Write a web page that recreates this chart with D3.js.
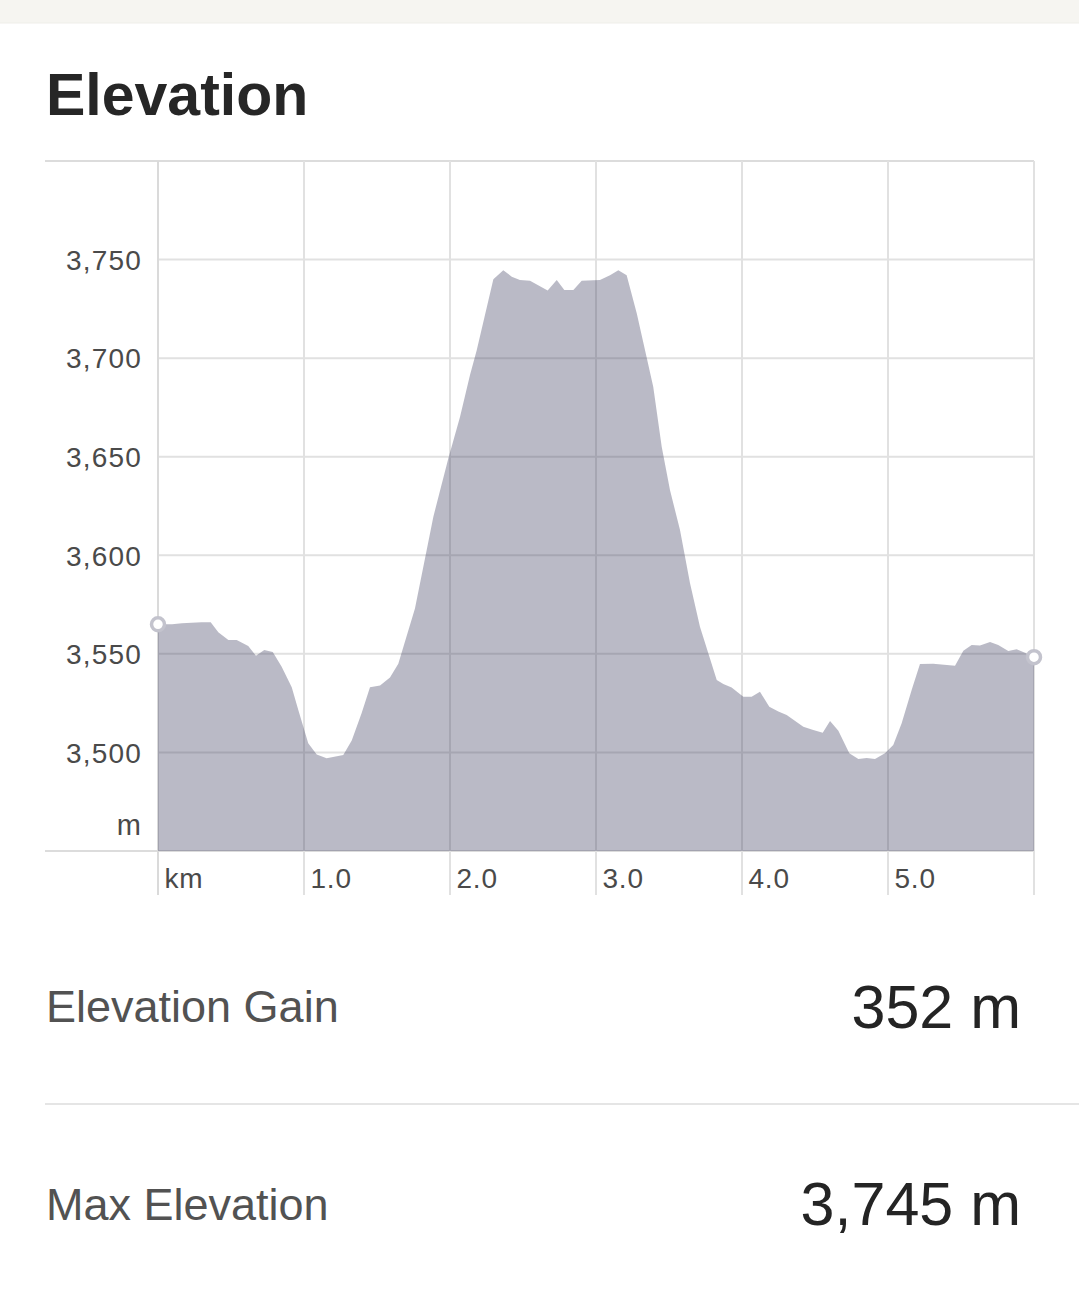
<!DOCTYPE html>
<html>
<head>
<meta charset="utf-8">
<script src="https://cdn.jsdelivr.net/npm/d3@7.9.0/dist/d3.min.js"></script>
<style>
  body { margin: 0; background: #fff; font-family: "Liberation Sans", Arial, sans-serif; }
  svg { display: block; }
</style>
</head>
<body>
<svg id="chart" width="1079" height="1311"></svg>
<script>
// elevation profile
const distKm = [0.000, 0.096, 0.164, 0.299, 0.361, 0.413, 0.482, 0.539, 0.618, 0.671, 0.728, 0.786,
  0.847, 0.916, 0.961, 1.029, 1.087, 1.155, 1.269, 1.327, 1.395, 1.452, 1.521, 1.589, 1.646,
  1.760, 1.817, 1.886, 1.988, 2.068, 2.137, 2.183, 2.297, 2.365, 2.423, 2.479, 2.548, 2.669,
  2.731, 2.783, 2.845, 2.902, 3.027, 3.096, 3.153, 3.210, 3.279, 3.392, 3.450, 3.507, 3.575,
  3.644, 3.712, 3.827, 3.872, 3.929, 4.009, 4.066, 4.123, 4.187, 4.249, 4.306, 4.420, 4.488,
  4.553, 4.603, 4.660, 4.735, 4.797, 4.854, 4.911, 4.979, 5.036, 5.093, 5.162, 5.219, 5.310,
  5.459, 5.516, 5.573, 5.630, 5.699, 5.755, 5.824, 5.881, 5.938, 6.000];
const elevM = [3565, 3565, 3565.5, 3566, 3566, 3561, 3557, 3557, 3554, 3549, 3552, 3551,
  3543.5, 3533, 3521.5, 3504.6, 3499, 3497, 3498.7, 3506, 3520, 3533, 3534, 3538, 3545,
  3573, 3594, 3619.6, 3649, 3670, 3691.5, 3704, 3740, 3744.6, 3741.3, 3739.7, 3739.2, 3734.3,
  3739.7, 3734.6, 3734.6, 3739.2, 3739.7, 3742, 3744.6, 3742, 3722.8, 3685.5, 3655, 3633, 3612.9,
  3585.8, 3563.8, 3536.8, 3534.7, 3532.9, 3528.2, 3528.2, 3530.8, 3523.2, 3520.7, 3519, 3513, 3511.4,
  3510, 3516, 3511, 3499.6, 3496.7, 3497.2, 3496.7, 3499.6, 3503.8, 3514.7, 3531.7, 3544.9, 3545,
  3544, 3551.6, 3554.5, 3554.3, 3556, 3554.5, 3551.5, 3552.3, 3550.5, 3548.3];

const yTicks = [3500, 3550, 3600, 3650, 3700, 3750];
const xTicks = [0, 1, 2, 3, 4, 5];
const xTickLabels = ["km", "1.0", "2.0", "3.0", "4.0", "5.0"];

const statLabels = ["Elevation Gain", "Max Elevation"];
const statValues = ["352 m", "3,745 m"];

const svg = d3.select("#chart");
const W = 1079;

// top strip
svg.append("rect").attr("x", 0).attr("y", 0).attr("width", W).attr("height", 23).attr("fill", "#f6f5f1");
svg.append("line").attr("x1", 0).attr("x2", W).attr("y1", 23).attr("y2", 23).attr("stroke", "#efeee9");

svg.append("text")
  .attr("x", 46).attr("y", 115)
  .attr("font-size", 59).attr("font-weight", "bold").attr("fill", "#262626")
  .text("Elevation");

// plot box
const plotL = 158, plotR = 1034, plotT = 161, plotB = 851;
const x = d3.scaleLinear().domain([0, 6]).range([plotL, plotR]);
const y = d3.scaleLinear().domain([3450, 3800]).range([plotB, plotT]);

const grid = "#e1e1e1";
const g = svg.append("g");

// horizontal grid
g.selectAll(".hgrid").data(yTicks).join("line")
  .attr("x1", plotL).attr("x2", plotR)
  .attr("y1", d => y(d)).attr("y2", d => y(d))
  .attr("stroke", grid).attr("stroke-width", 2);

// top border and baseline
g.selectAll(".hedge").data(y.domain()).join("line")
  .attr("x1", 45).attr("x2", plotR)
  .attr("y1", d => y(d)).attr("y2", d => y(d))
  .attr("stroke", "#dcdcdc").attr("stroke-width", 2);

// vertical grid (ticks + right edge)
g.selectAll(".vgrid").data(xTicks.concat([x.domain()[1]])).join("line")
  .attr("x1", d => x(d)).attr("x2", d => x(d))
  .attr("y1", plotT).attr("y2", plotB + 44)
  .attr("stroke", d => d === 0 ? "#dadada" : grid).attr("stroke-width", 2);

// area
const area = d3.area()
  .x((d, i) => x(distKm[i]))
  .y0(y(y.domain()[0]))
  .y1(d => y(d));

svg.append("path")
  .datum(elevM)
  .attr("d", area)
  .attr("fill", "rgb(58,58,92)")
  .attr("fill-opacity", 0.35);

// end markers
const ends = [0, elevM.length - 1];
svg.selectAll(".end").data(ends).join("circle")
  .attr("cx", i => x(distKm[i])).attr("cy", i => y(elevM[i]))
  .attr("r", 6.5)
  .attr("fill", "#fff").attr("stroke", "#c3c3cd").attr("stroke-width", 3.5);

// y labels
const yAxis = d3.axisLeft(y).tickValues(yTicks).tickFormat(d3.format(",")).tickSize(0).tickPadding(16);
const ya = svg.append("g").attr("transform", `translate(${plotL},0)`).call(yAxis);
ya.select(".domain").remove();
ya.selectAll("text")
  .attr("font-size", 28).attr("font-family", "Liberation Sans, Arial, sans-serif")
  .attr("letter-spacing", 1.2)
  .attr("fill", "#4a4a4a").attr("dy", "0.35em");

svg.append("text")
  .attr("x", 141).attr("y", 835).attr("text-anchor", "end")
  .attr("font-size", 29).attr("fill", "#4a4a4a").text("m");

// x labels
const xAxis = d3.axisBottom(x).tickValues(xTicks).tickFormat((d, i) => xTickLabels[i]).tickSize(0).tickPadding(0);
const xa = svg.append("g").attr("transform", `translate(0,${plotB})`).call(xAxis);
xa.select(".domain").remove();
xa.selectAll("text")
  .attr("text-anchor", "start").attr("x", 6).attr("y", 37).attr("dy", 0)
  .attr("font-size", 28).attr("font-family", "Liberation Sans, Arial, sans-serif")
  .attr("letter-spacing", 0.8)
  .attr("fill", "#4a4a4a");

// stats
const rowBase = [1022, 1220];
const valBase = [1028, 1225];
statLabels.forEach((lab, i) => {
  svg.append("text")
    .attr("x", 46).attr("y", rowBase[i])
    .attr("font-size", 45).attr("fill", "#525252")
    .text(lab);
  svg.append("text")
    .attr("x", 1021).attr("y", valBase[i]).attr("text-anchor", "end")
    .attr("font-size", 61).attr("fill", "#242424")
    .text(statValues[i]);
});
svg.append("line")
  .attr("x1", 45).attr("x2", W).attr("y1", 1104).attr("y2", 1104)
  .attr("stroke", "#dddddd").attr("stroke-width", 1.5);
</script>
</body>
</html>
